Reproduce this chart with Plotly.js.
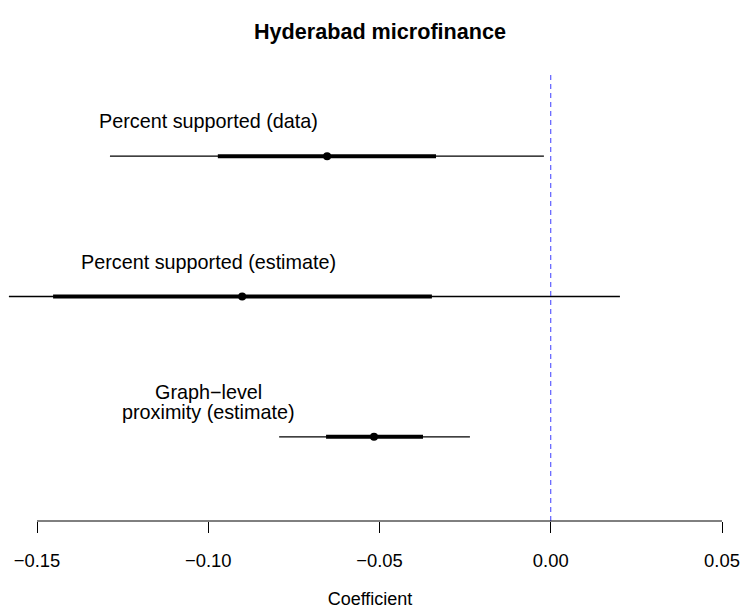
<!DOCTYPE html>
<html>
<head>
<meta charset="utf-8">
<script src="https://cdn.plot.ly/plotly-3.0.1.min.js"></script>
<style>html,body{margin:0;padding:0;background:#fff;}#chart{width:740px;height:609px;}</style>
</head>
<body>
<div id="chart"></div>
<script>
// Data
var labels = ["Percent supported (data)", "Percent supported (estimate)", "Graph\u2212level\nproximity (estimate)"];
var rows = [3, 2, 1];
var estimates = [-0.0653, -0.0901, -0.0516];
var outerLow = [-0.1287, -0.1582, -0.0793];
var outerHigh = [-0.0020, 0.0202, -0.0236];
var innerLow = [-0.0972, -0.1453, -0.0656];
var innerHigh = [-0.0335, -0.0347, -0.0373];
var tickValues = [-0.15, -0.10, -0.05, 0.00, 0.05];
var labelX = -0.10;
var refLine = 0;

function segs(lo, hi) {
  var xs = [], ys = [];
  for (var i = 0; i < rows.length; i++) {
    xs.push(lo[i], hi[i], null);
    ys.push(rows[i], rows[i], null);
  }
  return {x: xs, y: ys};
}
var thin = segs(outerLow, outerHigh);
var thick = segs(innerLow, innerHigh);

var traces = [
  {type: 'scatter', mode: 'lines', x: thin.x, y: thin.y, line: {color: 'black', width: 1.3}, hoverinfo: 'skip', showlegend: false},
  {type: 'scatter', mode: 'lines', x: thick.x, y: thick.y, line: {color: 'black', width: 4}, hoverinfo: 'skip', showlegend: false},
  {type: 'scatter', mode: 'markers', x: estimates, y: rows, marker: {color: 'black', size: 8}, showlegend: false}
];

var annotations = [];
var lineStep = 20.5;
for (var i = 0; i < labels.length; i++) {
  var parts = labels[i].split('\n');
  var n = parts.length;
  for (var j = 0; j < n; j++) {
    annotations.push({
      x: labelX, y: rows[i], xref: 'x', yref: 'y',
      text: parts[j], showarrow: false,
      xanchor: 'center', yanchor: 'middle',
      yshift: 35 + (n - 1) / 2 * lineStep - j * lineStep,
      font: {family: 'Liberation Sans, Arial, sans-serif', size: 19.8, color: 'black'}
    });
  }
}

var layout = {
  width: 740, height: 609,
  margin: {l: 0, r: 0, t: 72, b: 88},
  paper_bgcolor: 'white', plot_bgcolor: 'white',
  font: {family: 'Liberation Sans, Arial, sans-serif', color: 'black'},
  title: {
    text: '<b>Hyderabad microfinance</b>',
    font: {family: 'Liberation Sans, Arial, sans-serif', size: 21.6, color: 'black'},
    x: 380 / 740, xref: 'container', xanchor: 'center',
    y: 1 - 31 / 609, yref: 'container', yanchor: 'middle'
  },
  xaxis: {
    range: [-0.15 - 37 / 3425, 0.05 + 18 / 3425],
    tickvals: tickValues, tickformat: '.2f',
    ticks: 'outside', ticklen: 11, tickwidth: 1, tickcolor: 'black',
    ticklabelstandoff: 12,
    showgrid: false, zeroline: false, showline: false,
    tickfont: {family: 'Liberation Sans, Arial, sans-serif', size: 18.4, color: 'black'},
    title: {text: 'Coefficient', standoff: 23, font: {family: 'Liberation Sans, Arial, sans-serif', size: 18, color: 'black'}},
    automargin: false, fixedrange: true
  },
  yaxis: {range: [0.4, 3.6], visible: false, fixedrange: true},
  shapes: [
    {type: 'line', xref: 'x', yref: 'paper', x0: refLine, x1: refLine, y0: 0, y1: 1,
     line: {color: 'rgb(60,60,255)', width: 1, dash: '5px,4px'}},
    {type: 'line', xref: 'x', yref: 'paper', x0: tickValues[0], x1: tickValues[tickValues.length - 1], y0: 0, y1: 0,
     line: {color: 'black', width: 1}}
  ],
  annotations: annotations
};

Plotly.newPlot('chart', traces, layout, {displayModeBar: false, staticPlot: true});
</script>
</body>
</html>
